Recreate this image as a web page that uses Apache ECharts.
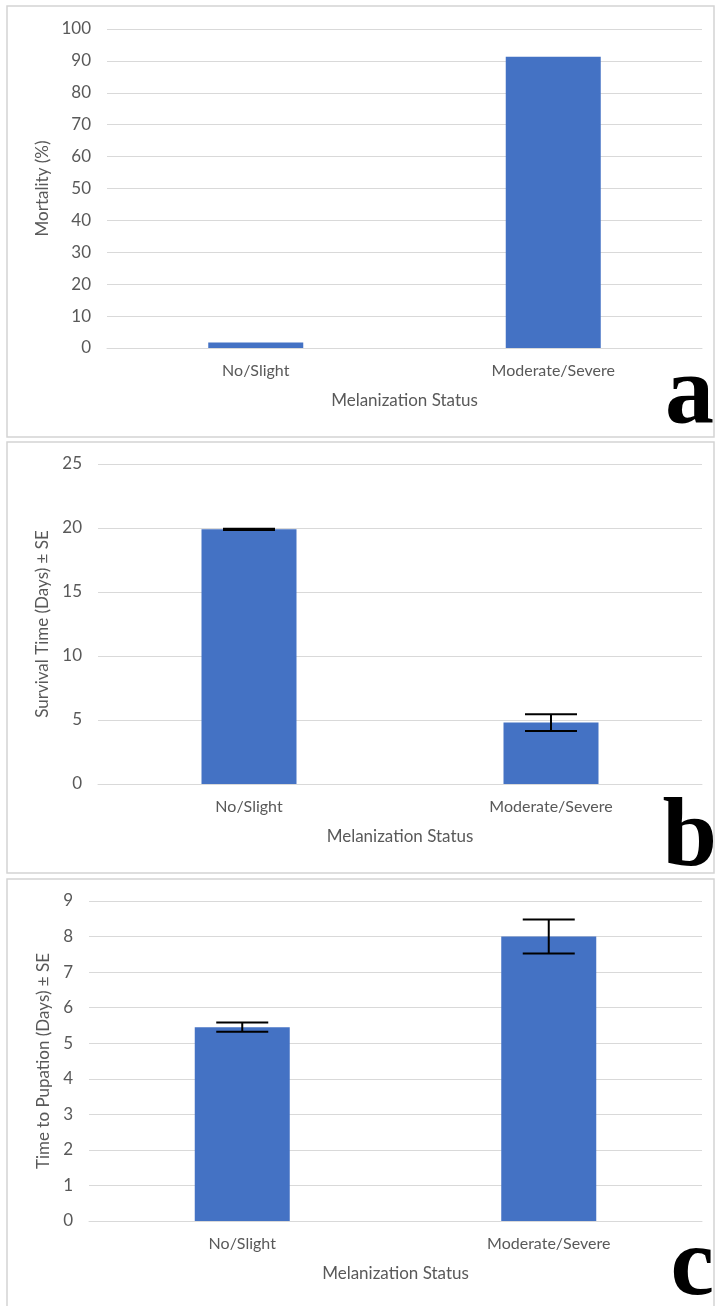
<!DOCTYPE html>
<html>
<head>
<meta charset="utf-8">
<script src="https://cdn.jsdelivr.net/npm/echarts@6/dist/echarts.min.js"></script>
<style>
  html, body { margin: 0; padding: 0; background: #fff; }
  #chart { width: 718px; height: 1306px; }
</style>
</head>
<body>
<div id="chart"></div>
<script>
// Melanization status groups
const categories = ['No/Slight', 'Moderate/Severe'];

// (a) mortality, %
const mortality = [1.7, 91.3];

// (b) survival time, days, with standard error
const survival = [19.9, 4.8];
const survivalSE = [0.05, 0.65];

// (c) time to pupation, days, with standard error
const pupation = [5.45, 8.0];
const pupationSE = [0.13, 0.48];

// y-axis ranges per panel
const axisA = { min: 0, max: 100, interval: 10 };
const axisB = { min: 0, max: 25, interval: 5 };
const axisC = { min: 0, max: 9, interval: 1 };

const FONT = 'Lato';
const LABEL_COLOR = '#595959';
const GRID_COLOR = '#d9d9d9';
const BAR_COLOR = '#4472C4';

function xAxisFor(gridIndex) {
  return {
    type: 'category',
    gridIndex: gridIndex,
    data: categories,
    name: 'Melanization Status',
    nameLocation: 'middle',
    nameGap: 44,
    nameTextStyle: { color: LABEL_COLOR, fontFamily: FONT, fontSize: 17 },
    axisLine: { show: true, lineStyle: { color: GRID_COLOR, width: 1 } },
    axisTick: { show: false },
    axisLabel: { color: LABEL_COLOR, fontFamily: FONT, fontSize: 16, margin: 15 }
  };
}

function yAxisFor(gridIndex, range, name, gap) {
  return {
    type: 'value',
    gridIndex: gridIndex,
    min: range.min,
    max: range.max,
    interval: range.interval,
    name: name,
    nameLocation: 'middle',
    nameGap: gap,
    nameTextStyle: { color: LABEL_COLOR, fontFamily: FONT, fontSize: 17 },
    axisLine: { show: false },
    axisTick: { show: false },
    axisLabel: { color: LABEL_COLOR, fontFamily: FONT, fontSize: 17, margin: 16 },
    splitLine: { show: true, lineStyle: { color: GRID_COLOR, width: 1.2 } }
  };
}

function barSeries(index, values) {
  return {
    type: 'bar',
    xAxisIndex: index,
    yAxisIndex: index,
    data: values,
    barWidth: 95,
    itemStyle: { color: BAR_COLOR },
    z: 2
  };
}

// Error bars: vertical whisker with a cap at mean ± SE
function errorSeries(index, means, ses) {
  const data = means.map((m, i) => [i, m - ses[i], m + ses[i]]);
  return {
    type: 'custom',
    xAxisIndex: index,
    yAxisIndex: index,
    data: data,
    z: 5,
    renderItem: function (params, api) {
      const x = api.value(0);
      const lo = api.coord([x, api.value(1)]);
      const hi = api.coord([x, api.value(2)]);
      const half = 26;
      const style = { stroke: '#000', lineWidth: 2 };
      return {
        type: 'group',
        children: [
          { type: 'line', shape: { x1: hi[0], y1: hi[1], x2: lo[0], y2: lo[1] }, style: style },
          { type: 'line', shape: { x1: hi[0] - half, y1: hi[1], x2: hi[0] + half, y2: hi[1] }, style: style },
          { type: 'line', shape: { x1: lo[0] - half, y1: lo[1], x2: lo[0] + half, y2: lo[1] }, style: style }
        ]
      };
    }
  };
}

// Light frame around each panel
function panelFrame(top, bottom) {
  return {
    type: 'rect',
    shape: { x: 7, y: top, width: 707, height: bottom - top },
    style: { fill: 'none', stroke: '#d4d4d4', lineWidth: 1.5 },
    z: -1,
    silent: true
  };
}

// Bold panel letter in the lower-right corner
function panelLetter(letter, x, y) {
  return {
    type: 'text',
    x: x,
    y: y,
    style: {
      text: letter,
      fill: '#000',
      font: 'bold 98px "Liberation Serif", serif',
      align: 'right',
      verticalAlign: 'bottom'
    },
    z: 10
  };
}

const chart = echarts.init(document.getElementById('chart'), null, { renderer: 'canvas' });

chart.setOption({
  backgroundColor: '#fff',
  animation: false,
  grid: [
    { left: 107, right: 16, top: 29, height: 319 },
    { left: 98, right: 16, top: 464, height: 320 },
    { left: 89, right: 16, top: 901, height: 320 }
  ],
  xAxis: [xAxisFor(0), xAxisFor(1), xAxisFor(2)],
  yAxis: [
    yAxisFor(0, axisA, 'Mortality (%)', 50),
    yAxisFor(1, axisB, 'Survival Time (Days) \u00b1 SE', 41),
    yAxisFor(2, axisC, 'Time to Pupation (Days) \u00b1 SE', 32)
  ],
  series: [
    barSeries(0, mortality),
    barSeries(1, survival),
    errorSeries(1, survival, survivalSE),
    barSeries(2, pupation),
    errorSeries(2, pupation, pupationSE)
  ],
  graphic: [
    panelFrame(6, 437),
    panelFrame(442, 873),
    panelFrame(879, 1312),
    panelLetter('a', 714, 446),
    panelLetter('b', 717, 889),
    panelLetter('c', 714, 1318)
  ]
});
</script>
</body>
</html>
